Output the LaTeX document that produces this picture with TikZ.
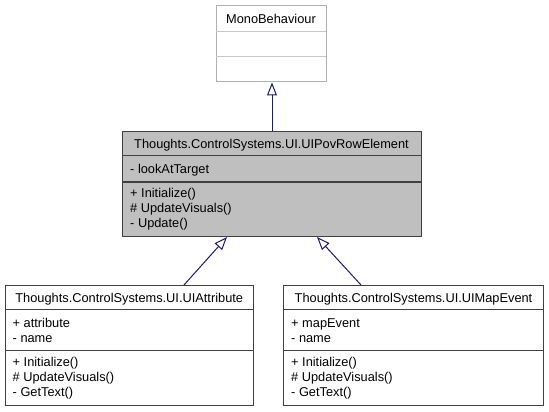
\documentclass[tikz,border=0pt]{standalone}
\usepackage{fontspec}
\setmainfont{Liberation Sans}
\usetikzlibrary{arrows.meta,calc}
\definecolor{boxc}{HTML}{404040}
\definecolor{extc}{HTML}{B0B0B0}
\definecolor{fillc}{HTML}{BFBFBF}
\definecolor{edgec}{HTML}{191970}
\begin{document}
\begin{tikzpicture}[x=1pt,y=1pt,
  box/.style={draw=boxc, line width=1pt, inner sep=0pt, anchor=north west},
  sep/.style={draw=boxc, line width=1pt},
  lbl/.style={font=\fontsize{12.8}{15}\selectfont, inner sep=0pt, anchor=west, text height=9.2pt, text depth=0pt},
  ttl/.style={lbl, anchor=center},
  inh/.style={draw=edgec, line width=1pt, -{Triangle[fill=white,length=13pt,width=10pt]}}]
\useasboundingbox (0,0) rectangle (549,412);
% MonoBehaviour
\node[box, draw=extc, minimum width=110pt, minimum height=76pt] (mono) at (216,406.5) {};
\draw[sep, draw=extc!70] (216,380.3) -- (326,380.3);
\draw[sep, draw=extc!70] (216,355.3) -- (326,355.3);
\node[ttl] (monot) at (271,393.5) {MonoBehaviour};
% Middle
\node[box, fill=fillc, minimum width=299pt, minimum height=105pt] (mid) at (122,281) {};
\draw[sep] (mid.west |- 0,256) -- (mid.east |- 0,256);
\draw[sep, line width=1.6pt] (mid.west |- 0,230) -- (mid.east |- 0,230);
\node[ttl] (midt) at (271.5,268.5) {Thoughts.ControlSystems.UI.UIPovRowElement};
\node[lbl] (m1) at (130,243) {- lookAtTarget};
\node[lbl] (m2) at (130,219) {+ Initialize()};
\node[lbl] (m3) at (130,204) {\# UpdateVisuals()};
\node[lbl] (m4) at (130,189) {- Update()};
% Left child
\node[box, minimum width=248.5pt, minimum height=120pt] (left) at (4.5,127) {};
\draw[sep] (left.west |- 0,102) -- (left.east |- 0,102);
\draw[sep] (left.west |- 0,61) -- (left.east |- 0,61);
\node[ttl] (lt) at (left.center |- 0,114.5) {Thoughts.ControlSystems.UI.UIAttribute};
\node[lbl] (l1) at (12.5,89) {+ attribute};
\node[lbl] (l2) at (12.5,74) {- name};
\node[lbl] (l3) at (12.5,50) {+ Initialize()};
\node[lbl] (l4) at (12.5,35) {\# UpdateVisuals()};
\node[lbl] (l5) at (12.5,20) {- GetText()};
% Right child
\node[box, minimum width=260pt, minimum height=120pt] (right) at (283,127) {};
\draw[sep] (right.west |- 0,102) -- (right.east |- 0,102);
\draw[sep] (right.west |- 0,61) -- (right.east |- 0,61);
\node[ttl] (rt) at (right.center |- 0,114.5) {Thoughts.ControlSystems.UI.UIMapEvent};
\node[lbl] (r1) at (291,89) {+ mapEvent};
\node[lbl] (r2) at (291,74) {- name};
\node[lbl] (r3) at (291,50) {+ Initialize()};
\node[lbl] (r4) at (291,35) {\# UpdateVisuals()};
\node[lbl] (r5) at (291,20) {- GetText()};
% Connectors
\coordinate (ltail) at (184,0);
\coordinate (lhead) at (227,0);
\coordinate (rtail) at (361,0);
\coordinate (rhead) at (317,0);
\draw[inh] (mid.north) -- (mid.north |- mono.south);
\draw[inh] (left.north -| ltail) -- (mid.south -| lhead);
\draw[inh] (right.north -| rtail) -- (mid.south -| rhead);
\end{tikzpicture}
\end{document}
